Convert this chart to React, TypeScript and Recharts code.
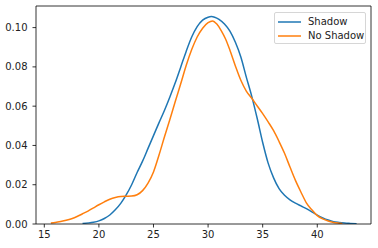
import React from "react";
import { LineChart, Line, XAxis, YAxis, ReferenceLine } from "recharts";

const seriesNames = ["Shadow", "No Shadow"];
const seriesColors = ["#1f77b4", "#ff7f0e"];

const shadowX = [18.5, 19.5, 20.0, 20.5, 21.0, 21.5, 22.0, 22.5, 23.0, 23.5, 24.0, 24.5, 25.0, 25.5, 26.0, 26.5, 27.0, 27.5, 28.0, 28.5, 29.0, 29.5, 30.0, 30.3, 30.6, 31.0, 31.5, 32.0, 32.5, 33.0, 33.5, 34.0, 34.5, 35.0, 35.5, 36.0, 36.5, 37.0, 37.5, 38.0, 38.5, 39.0, 39.5, 40.0, 40.5, 41.0, 41.5, 42.0, 42.5, 43.0, 43.6];
const shadowY = [0.0003, 0.0009, 0.0016, 0.0028, 0.0046, 0.0072, 0.0105, 0.0148, 0.02, 0.0262, 0.032, 0.0385, 0.045, 0.0515, 0.0578, 0.0647, 0.072, 0.08, 0.088, 0.0952, 0.1005, 0.1038, 0.1053, 0.1056, 0.1053, 0.1042, 0.1018, 0.0982, 0.0925, 0.085, 0.0748, 0.065, 0.0537, 0.0415, 0.031, 0.0235, 0.018, 0.0146, 0.0123, 0.0106, 0.0092, 0.0078, 0.0062, 0.0045, 0.0031, 0.002, 0.0012, 0.0008, 0.0005, 0.0003, 0.0001];

const noShadowX = [15.6, 16.0, 16.5, 17.0, 17.5, 18.0, 18.5, 19.0, 19.5, 20.0, 20.5, 21.0, 21.5, 22.0, 22.5, 23.0, 23.5, 24.0, 24.5, 25.0, 25.5, 26.0, 26.5, 27.0, 27.5, 28.0, 28.5, 29.0, 29.5, 30.0, 30.4, 30.8, 31.2, 31.6, 32.0, 32.5, 33.0, 33.5, 34.0, 34.5, 35.0, 35.5, 36.0, 36.5, 37.0, 37.5, 38.0, 38.5, 39.0, 39.5, 40.0, 40.5, 41.0, 41.5, 42.0, 42.3];
const noShadowY = [0.0005, 0.0008, 0.0013, 0.0019, 0.0027, 0.0038, 0.0052, 0.0066, 0.0082, 0.0098, 0.0113, 0.0126, 0.0135, 0.014, 0.0141, 0.0142, 0.0149, 0.017, 0.0208, 0.0265, 0.035, 0.0443, 0.0532, 0.0625, 0.0715, 0.0808, 0.0888, 0.0952, 0.0997, 0.1025, 0.1034, 0.1018, 0.0985, 0.0942, 0.0885, 0.0805, 0.0732, 0.0677, 0.064, 0.0601, 0.0562, 0.052, 0.0475, 0.042, 0.036, 0.029, 0.0222, 0.0163, 0.0108, 0.0072, 0.0043, 0.0026, 0.0015, 0.0008, 0.0004, 0.0002];

const xTicks = [15, 20, 25, 30, 35, 40];
const yTicks = [0, 0.02, 0.04, 0.06, 0.08, 0.1];

const shadowData = shadowX.map((x, i) => ({ x, y: shadowY[i] }));
const noShadowData = noShadowX.map((x, i) => ({ x, y: noShadowY[i] }));
const seriesData = [shadowData, noShadowData];

const font = "'DejaVu Sans', sans-serif";
const tickStyle = { fontSize: 10, fill: "#222", fontFamily: font };
const xDomain: [number, number] = [14.24, 44.92];
const yDomain: [number, number] = [0, 0.111];

export default function App() {
  return (
    <div style={{ position: "absolute", left: 0, top: 0, width: 378, height: 248 }}>
      <LineChart width={378} height={248} margin={{ top: 6, right: 7, bottom: 0, left: 0 }}>
        <XAxis
          xAxisId="b"
          dataKey="x"
          type="number"
          domain={xDomain}
          allowDataOverflow
          ticks={xTicks}
          tick={tickStyle}
          tickSize={3.5}
          tickMargin={3}
          height={24}
          stroke="#000"
          axisLine={{ stroke: "#000", strokeWidth: 0.8 }}
          tickLine={{ stroke: "#000", strokeWidth: 0.8 }}
        />
        <YAxis
          yAxisId="l"
          type="number"
          domain={yDomain}
          allowDataOverflow
          ticks={yTicks}
          tickFormatter={(v: number) => v.toFixed(2)}
          tick={tickStyle}
          tickSize={3.5}
          tickMargin={5}
          width={36}
          axisLine={{ stroke: "#000", strokeWidth: 0.8 }}
          tickLine={{ stroke: "#000", strokeWidth: 0.8 }}
        />
        <ReferenceLine xAxisId="b" yAxisId="l" y={yDomain[1]} stroke="#000" strokeWidth={0.8} ifOverflow="visible" />
        <ReferenceLine xAxisId="b" yAxisId="l" x={xDomain[1]} stroke="#000" strokeWidth={0.8} ifOverflow="visible" />
        {seriesData.map((d, i) => (
          <Line
            key={seriesNames[i]}
            xAxisId="b"
            yAxisId="l"
            data={d}
            dataKey="y"
            name={seriesNames[i]}
            type="monotone"
            stroke={seriesColors[i]}
            strokeWidth={1.5}
            dot={false}
            activeDot={false}
            isAnimationActive={false}
          />
        ))}
      </LineChart>
      <div
        style={{
          position: "absolute",
          left: 274,
          top: 11.5,
          width: 92,
          height: 32,
          boxSizing: "border-box",
          border: "1px solid #d6d6d6",
          borderRadius: 2,
          background: "rgba(255,255,255,0.8)",
          fontFamily: font,
          fontSize: 10,
          color: "#222",
        }}
      >
        {seriesNames.map((n, i) => (
          <div
            key={n}
            style={{ position: "absolute", left: 3, top: 2 + i * 14, height: 14, display: "flex", alignItems: "center", whiteSpace: "nowrap" }}
          >
            <svg width={23} height={14} style={{ display: "block" }}>
              <line x1={0} x2={23} y1={7} y2={7} stroke={seriesColors[i]} strokeWidth={1.5} />
            </svg>
            <span style={{ marginLeft: 7, lineHeight: "14px" }}>{n}</span>
          </div>
        ))}
      </div>
    </div>
  );
}
